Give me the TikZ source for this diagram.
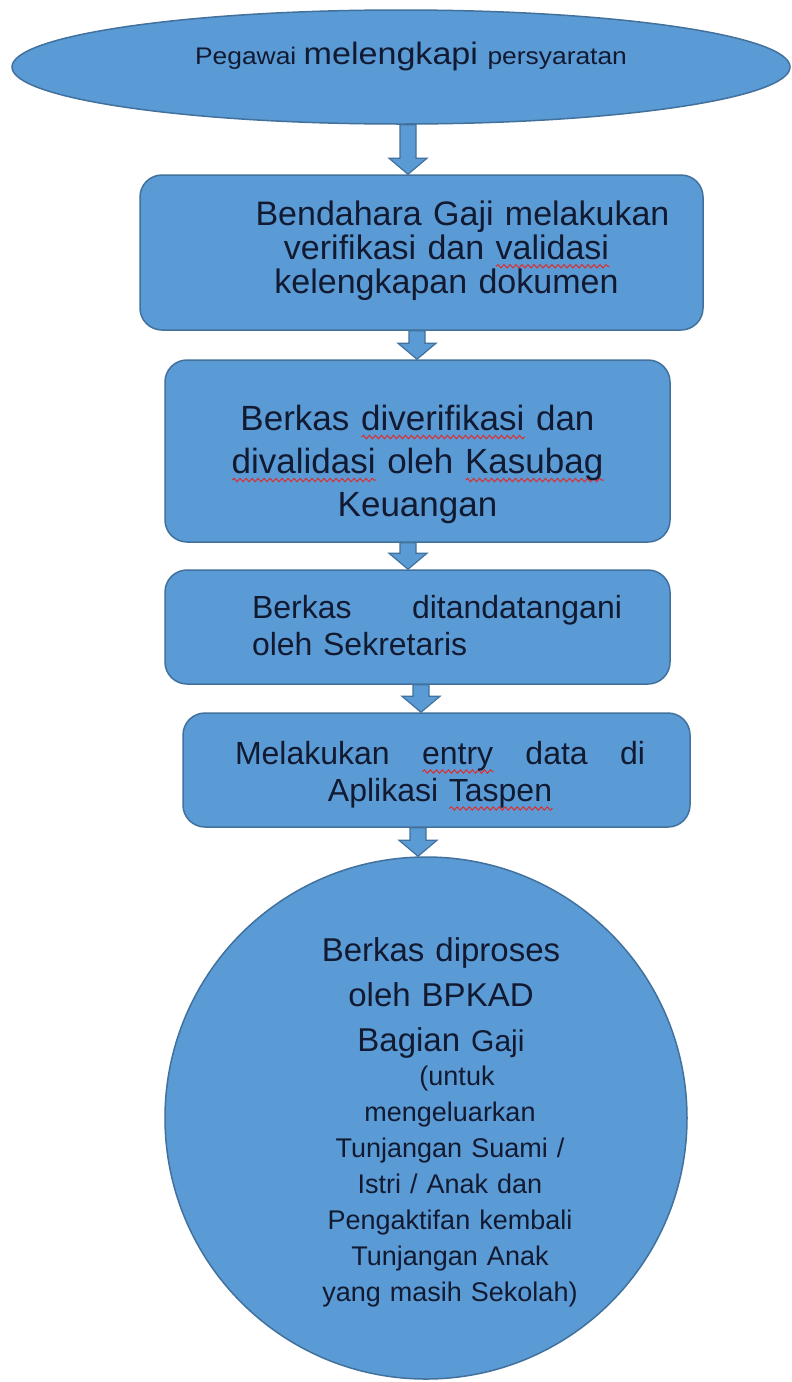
\documentclass[tikz,border=0pt]{standalone}
\usepackage{fontspec}
\setmainfont{Liberation Sans}
\newfontfamily\wideheadfont[FakeStretch=1.1]{Liberation Sans}
\usetikzlibrary{calc,positioning,shapes.geometric,decorations.pathmorphing}

\definecolor{boxblue}{RGB}{91,155,213}
\definecolor{edgeblue}{RGB}{65,113,156}
\definecolor{inkblue}{RGB}{18,26,50}
\definecolor{squigred}{RGB}{222,45,45}

\newcommand\setpx[2]{\fontsize{#1}{#2}\selectfont}

% red wavy underline of the spell checker
\newlength\spellwd
\newcommand\spell[1]{\settowidth\spellwd{#1}\leavevmode\rlap{\tikz[baseline=0pt]
  \draw[squigred,line width=1pt,decorate,decoration={snake,amplitude=1.7pt,segment length=6pt}]
  (0pt,-7pt) -- (\spellwd,-7pt);}#1}

% block arrow from #2 down to #3, centred at x=#1
\newcommand\blockarrow[3]{%
  \draw[arrowbody] let \p1=(#2.south), \p2=(#3.north) in
    (#1pt-8pt,\y1) -- (#1pt+8pt,\y1) -- (#1pt+8pt,\y2+16pt) -- (#1pt+19pt,\y2+16pt)
    -- (#1pt,\y2) -- (#1pt-19pt,\y2+16pt) -- (#1pt-8pt,\y2+16pt) -- cycle;}

\begin{document}
\begin{tikzpicture}[x=1pt,y=-1pt,
  stepbox/.style={rectangle,rounded corners=22pt,draw=edgeblue,fill=boxblue,line width=1.5pt},
  steptext/.style={text=inkblue,inner sep=0pt},
  arrowbody/.style={draw=edgeblue,fill=boxblue,line width=1.2pt,line join=miter}]

\path[use as bounding box,fill=white] (0,0) rectangle (792,1382);

\node[ellipse,draw=edgeblue,fill=boxblue,line width=1.5pt,minimum width=778,minimum height=114,inner sep=0pt](start) at (401,67) {};
\node[steptext,font=\wideheadfont](startText) at (411,56) {\setpx{24}{28}Pegawai \setpx{31}{28}melengkapi \setpx{24}{28}persyaratan};

\node[stepbox,minimum width=563,minimum height=155](verif) at (421.5,252.5) {};
\node[steptext,align=center,text width=460,font=\setpx{34}{34}](verifText) at ($(verif)+(25,-2)$)
  {\hspace*{32pt}Bendahara Gaji melakukan\\verifikasi dan \spell{validasi}\\kelengkapan dokumen};

\node[stepbox,minimum width=505,minimum height=182](kasubag) at (417.5,451) {};
\node[steptext,align=center,text width=420,font=\setpx{35}{43}](kasubagText) at ($(kasubag)+(0,13)$)
  {Berkas \spell{diverifikasi} dan\\ \spell{divalidasi} oleh \spell{Kasubag}\\Keuangan};

\node[stepbox,minimum width=505,minimum height=114](sekretaris) at (417.5,627) {};
\node[steptext,align=left,text width=370,font=\setpx{32}{37}](sekretarisText) at ($(sekretaris)+(19.5,-1)$)
  {\makebox[370pt][l]{Berkas\hfill ditandatangani}\\oleh Sekretaris};

\node[stepbox,minimum width=507,minimum height=114](taspen) at (436.5,770) {};
\node[steptext,align=center,text width=410,font=\setpx{32}{37}](taspenText) at ($(taspen)+(3.5,6)$)
  {\makebox[410pt][l]{Melakukan\hfill\spell{entry}\hfill data\hfill di}\\Aplikasi \spell{Taspen}};

\node[circle,draw=edgeblue,fill=boxblue,line width=1.5pt,minimum size=522,inner sep=0pt](bpkad) at (426,1118) {};
\node[steptext,align=center,text width=320,font=\setpx{33}{45}](bpkadTitle) at (441,998)
  {Berkas diproses\\oleh BPKAD\\Bagian {\setpx{30}{45}Gaji}};
\node[steptext,align=center,text width=320,font=\setpx{27}{36}](bpkadNote) at (450,1187)
  {\hspace*{14pt}(untuk\\mengeluarkan\\Tunjangan Suami /\\Istri / Anak dan\\Pengaktifan kembali\\Tunjangan Anak\\yang masih Sekolah)};

\blockarrow{408}{start}{verif}
\blockarrow{417}{verif}{kasubag}
\blockarrow{408}{kasubag}{sekretaris}
\blockarrow{421}{sekretaris}{taspen}
\blockarrow{418}{taspen}{bpkad}
\end{tikzpicture}
\end{document}
